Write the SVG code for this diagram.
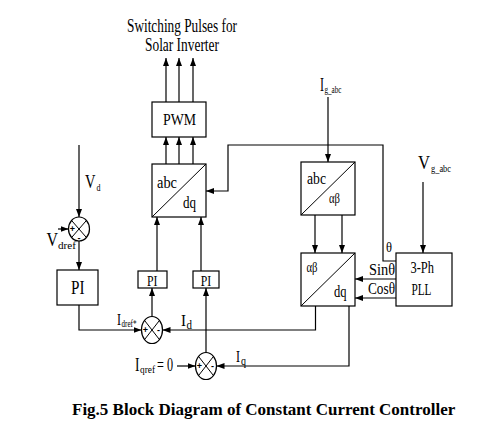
<svg xmlns="http://www.w3.org/2000/svg" width="494" height="431" viewBox="0 0 494 431">
<defs>
<marker id="ah" markerUnits="userSpaceOnUse" markerWidth="8" markerHeight="6" refX="8" refY="3" orient="auto">
<path d="M0,0 L8,3 L0,6 z" fill="#000"/>
</marker>
<style>
.bx{fill:#fff;stroke:#000;stroke-width:1.2}
.dg{stroke:#000;stroke-width:1}
.w{fill:none;stroke:#000;stroke-width:1.2}
.a{fill:none;stroke:#000;stroke-width:1.2;marker-end:url(#ah)}
.t{font-family:"Liberation Serif","Times New Roman",serif;fill:#000}
.sg{font-family:"Liberation Sans",Arial,sans-serif;font-size:9px;font-weight:bold;fill:#000;text-anchor:middle}
</style>
</defs>
<rect width="494" height="431" fill="#fff"/>

<g id="connectors">
<path class="a" d="M166,102 V58"/>
<path class="a" d="M179,102 V58"/>
<path class="a" d="M193,102 V58"/>
<path class="a" d="M166,164 V137"/>
<path class="a" d="M179,164 V137"/>
<path class="a" d="M193,164 V137"/>
<path class="a" d="M396,261 H383 V145 H228 V191 H206"/>
<path class="a" d="M328,97 V162"/>
<path class="a" d="M315,215 V253"/>
<path class="a" d="M342,215 V253"/>
<path class="a" d="M423,182 V253"/>
<path class="a" d="M396,279 H355"/>
<path class="a" d="M396,298 H355"/>
<path class="a" d="M315.5,306 V330 H162.5"/>
<path class="a" d="M349,306 V366 H216.5"/>
<path class="a" d="M79,145 V217"/>
<path class="a" d="M58,229 H68.5"/>
<path class="a" d="M79,241 V270"/>
<path class="a" d="M79,305 V330 H141.5"/>
<path class="a" d="M152,316.5 V288"/>
<path class="a" d="M157,271 V217"/>
<path class="a" d="M206,352.5 V288"/>
<path class="a" d="M201,271 V217"/>
<path class="a" d="M177,366 H195.5"/>
</g>

<g id="pwm">
<rect class="bx" x="152" y="102" width="54" height="35"/>
<text class="t" x="163" y="125" font-size="17" textLength="33" lengthAdjust="spacingAndGlyphs">PWM</text>
</g>

<g id="abc-dq">
<rect class="bx" x="152" y="164" width="54" height="53"/>
<line class="dg" x1="152" y1="217" x2="206" y2="164"/>
<text class="t" x="157" y="188" font-size="16" textLength="20" lengthAdjust="spacingAndGlyphs">abc</text>
<text class="t" x="183" y="208" font-size="16" textLength="13" lengthAdjust="spacingAndGlyphs">dq</text>
</g>

<g id="abc-alphabeta">
<rect class="bx" x="301" y="162" width="54" height="53"/>
<line class="dg" x1="301" y1="215" x2="355" y2="162"/>
<text class="t" x="307" y="184" font-size="16" textLength="19" lengthAdjust="spacingAndGlyphs">abc</text>
<text class="t" x="329" y="203" font-size="15" textLength="11" lengthAdjust="spacingAndGlyphs">αβ</text>
</g>

<g id="alphabeta-dq">
<rect class="bx" x="301" y="253" width="54" height="53"/>
<line class="dg" x1="301" y1="306" x2="355" y2="253"/>
<text class="t" x="306.5" y="272" font-size="15" textLength="11" lengthAdjust="spacingAndGlyphs">αβ</text>
<text class="t" x="334" y="297" font-size="16" textLength="12.5" lengthAdjust="spacingAndGlyphs">dq</text>
</g>

<g id="pll">
<rect class="bx" x="396" y="253" width="56" height="53"/>
<text class="t" x="410.5" y="273" font-size="16" textLength="23.5" lengthAdjust="spacingAndGlyphs">3-Ph</text>
<text class="t" x="411.5" y="295" font-size="16" textLength="20" lengthAdjust="spacingAndGlyphs">PLL</text>
</g>

<g id="pi-v">
<rect class="bx" x="57" y="270" width="41" height="35"/>
<text class="t" x="71" y="294" font-size="18" textLength="13.5" lengthAdjust="spacingAndGlyphs">PI</text>
</g>

<g id="pi-d">
<rect class="bx" x="138" y="271" width="29" height="17"/>
<text class="t" x="147" y="285.5" font-size="15" textLength="10.5" lengthAdjust="spacingAndGlyphs">PI</text>
</g>

<g id="pi-q">
<rect class="bx" x="193" y="271" width="26" height="17"/>
<text class="t" x="200.8" y="285.5" font-size="15" textLength="10.5" lengthAdjust="spacingAndGlyphs">PI</text>
</g>

<g id="sum-v">
<ellipse class="bx" cx="79" cy="229" rx="10.5" ry="12"/>
<line class="dg" x1="71.6" y1="220.5" x2="86.4" y2="237.5"/>
<line class="dg" x1="71.6" y1="237.5" x2="86.4" y2="220.5"/>
<text class="sg" x="72.5" y="232">+</text>
<text class="sg" x="79" y="240.5">-</text>
</g>

<g id="sum-d">
<ellipse class="bx" cx="152" cy="330" rx="10.5" ry="13.5"/>
<line class="dg" x1="144.6" y1="320.5" x2="159.4" y2="339.5"/>
<line class="dg" x1="144.6" y1="339.5" x2="159.4" y2="320.5"/>
<text class="sg" x="145.5" y="333">+</text>
<text class="sg" x="158.5" y="333">-</text>
</g>

<g id="sum-q">
<ellipse class="bx" cx="206" cy="366" rx="10.5" ry="13.5"/>
<line class="dg" x1="198.6" y1="356.5" x2="213.4" y2="375.5"/>
<line class="dg" x1="198.6" y1="375.5" x2="213.4" y2="356.5"/>
<text class="sg" x="199.5" y="369">+</text>
<text class="sg" x="212.5" y="369">-</text>
</g>

<g id="labels">
<text class="t" x="127" y="32" font-size="19" textLength="110" lengthAdjust="spacingAndGlyphs">Switching Pulses for</text>
<text class="t" x="145" y="51" font-size="19" textLength="74" lengthAdjust="spacingAndGlyphs">Solar Inverter</text>

<text class="t" x="320" y="91" font-size="18" textLength="4" lengthAdjust="spacingAndGlyphs">I</text>
<text class="t" x="324.5" y="93" font-size="11" textLength="17" lengthAdjust="spacingAndGlyphs">g_abc</text>

<text class="t" x="418" y="169" font-size="18" textLength="12" lengthAdjust="spacingAndGlyphs">V</text>
<text class="t" x="431" y="172" font-size="11" textLength="20" lengthAdjust="spacingAndGlyphs">g_abc</text>

<text class="t" x="386" y="252" font-size="15" textLength="6" lengthAdjust="spacingAndGlyphs">θ</text>
<text class="t" x="369" y="275" font-size="16" textLength="26" lengthAdjust="spacingAndGlyphs">Sinθ</text>
<text class="t" x="368" y="294" font-size="16" textLength="27" lengthAdjust="spacingAndGlyphs">Cosθ</text>

<text class="t" x="85" y="188" font-size="18" textLength="10.5" lengthAdjust="spacingAndGlyphs">V</text>
<text class="t" x="96.5" y="191" font-size="11" textLength="4" lengthAdjust="spacingAndGlyphs">d</text>

<text class="t" x="46.5" y="246" font-size="18" textLength="11.5" lengthAdjust="spacingAndGlyphs">V</text>
<text class="t" x="58" y="249" font-size="11" textLength="18" lengthAdjust="spacingAndGlyphs">dref</text>

<text class="t" x="117" y="325" font-size="17" textLength="4" lengthAdjust="spacingAndGlyphs">I</text>
<text class="t" x="121.5" y="327" font-size="10" textLength="15" lengthAdjust="spacingAndGlyphs">dref*</text>

<text class="t" x="181" y="326" font-size="17" textLength="5" lengthAdjust="spacingAndGlyphs">I</text>
<text class="t" x="186.5" y="329" font-size="12" textLength="5.5" lengthAdjust="spacingAndGlyphs">d</text>

<text class="t" x="236" y="362" font-size="17" textLength="4" lengthAdjust="spacingAndGlyphs">I</text>
<text class="t" x="241" y="365" font-size="12" textLength="5" lengthAdjust="spacingAndGlyphs">q</text>

<text class="t" x="135" y="371" font-size="18" textLength="4.5" lengthAdjust="spacingAndGlyphs">I</text>
<text class="t" x="140" y="373" font-size="11" textLength="15" lengthAdjust="spacingAndGlyphs">qref</text>
<text class="t" x="157" y="371" font-size="18" textLength="16" lengthAdjust="spacingAndGlyphs">= 0</text>

<text class="t" x="72" y="415" font-size="17" font-weight="bold">Fig.5 Block Diagram of Constant Current Controller</text>
</g>
</svg>
